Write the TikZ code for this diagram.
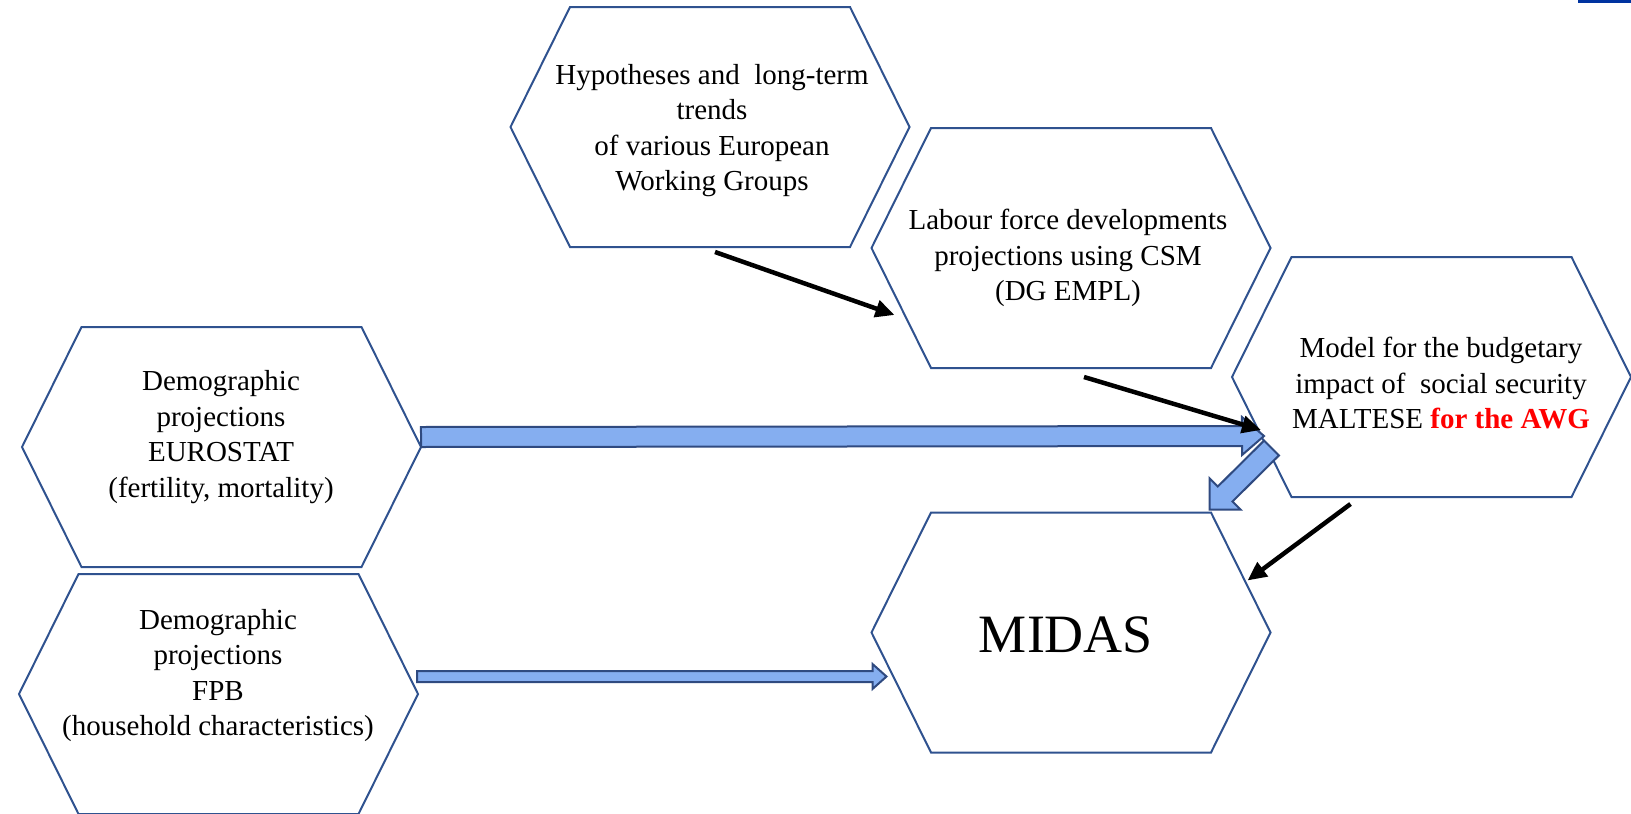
\documentclass[tikz,border=0pt]{standalone}
\usepackage{fontspec}
\setmainfont{Liberation Serif}
\usetikzlibrary{arrows.meta,calc}
\definecolor{hexblue}{HTML}{2F528F}
\definecolor{arrfill}{HTML}{85AEF0}
\definecolor{arrline}{HTML}{2F4A80}
\definecolor{awgred}{HTML}{FF0000}
\definecolor{barblue}{HTML}{0033A0}
\tikzset{
  hexbox/.style={minimum width=399pt, minimum height=240pt, inner sep=0pt, outer sep=0pt},
  hexline/.style={draw=hexblue, line width=2pt, line join=miter},
  txt/.style={align=center, inner sep=0pt, font=\fontsize{29}{35.5}\selectfont},
  blk/.style={-{Triangle[length=19pt,width=17pt]}, line width=4.5pt, draw=black},
  blockarrow/.style={draw=arrline, fill=arrfill, line width=2pt, line join=miter},
}
\newcommand{\hexpath}[2]{%
  \draw[hexline] (#1.west) -- ([xshift=#2]#1.north west) -- ([xshift=-#2]#1.north east) -- (#1.east) -- ([xshift=-#2]#1.south east) -- ([xshift=#2]#1.south west) -- cycle;}
\newcommand{\blockarr}[5]{%
  \coordinate (ba-s) at (#1);
  \coordinate (ba-e) at (#2);
  \coordinate (ba-h) at ($(ba-e)!#5!(ba-s)$);
  \draw[blockarrow] ($(ba-s)!#3!90:(ba-e)$) -- ($(ba-h)!#3!90:(ba-e)$) -- ($(ba-h)!#4!90:(ba-e)$) -- (ba-e) -- ($(ba-h)!#4!-90:(ba-e)$) -- ($(ba-h)!#3!-90:(ba-e)$) -- ($(ba-s)!#3!-90:(ba-e)$) -- cycle;}
\begin{document}
\begin{tikzpicture}[x=1pt,y=-1pt]
\useasboundingbox (0,0) rectangle (1631,814);
\fill[barblue] (1578,0) rectangle (1631,3);
% hexagon frames
\node[hexbox] (hyp) at (710,127) {};
\node[hexbox] (lab) at (1071,248) {};
\node[hexbox] (mod) at (1431.5,377) {};
\node[hexbox] (mid) at (1071,632.5) {};
\node[hexbox] (eu) at (221.5,447) {};
\node[hexbox] (fpb) at (218.5,694) {};
\hexpath{hyp}{59.5}
\hexpath{lab}{59.5}
\hexpath{mod}{59.5}
\hexpath{mid}{59.5}
\hexpath{eu}{59.5}
\hexpath{fpb}{59.5}
% texts
\node[txt] (hyp-t) at (712,130.5) {Hypotheses and\ \ long-term\\trends\\of various European\\Working Groups};
\node[txt] (lab-t) at (1068,258) {Labour force developments\\projections using CSM\\(DG EMPL)};
\node[txt] (mod-t) at (1441,383.5) {Model for the budgetary\\impact of\ \ social security\\MALTESE {\color{awgred}\bfseries for the AWG}};
\node[align=center, inner sep=0pt, font=\fontsize{54}{60}\selectfont] (mid-t) at (1066,634.5) {MIDAS};
\node[txt] (eu-t) at (221,437) {Demographic\\projections\\EUROSTAT\\(fertility, mortality)};
\node[txt] (fpb-t) at (218,675.5) {Demographic\\projections\\FPB\\(household characteristics)};
% blue block arrows
\coordinate (b1s) at ($(eu.east)+(0,-10)$);
\coordinate (b1e) at ($(mod.west)+(32,59)$);
\blockarr{b1s}{b1e}{10pt}{19pt}{22pt}
\coordinate (b2s) at ($(mod.west)+(39.5,71)$);
\coordinate (b2e) at ($(mid.north east)+(-61,-3)$);
\blockarr{b2s}{b2e}{10.5pt}{22pt}{22pt}
\coordinate (b3s) at ($(fpb.east)+(-1,-17.5)$);
\coordinate (b3e) at ($(mid.west)+(15,44)$);
\blockarr{b3s}{b3e}{5.5pt}{12.5pt}{14pt}
% black arrows
\draw[blk] ($(hyp.south)+(5,5)$) -- ($(lab.west)+(23,67)$);
\draw[blk] ($(lab.south)+(13,9)$) -- ($(mod.west)+(29,53)$);
\draw[blk] ($(mod.south)+(-81,7)$) -- ($(mid.east)+(-23,-52)$);
\end{tikzpicture}
\end{document}
